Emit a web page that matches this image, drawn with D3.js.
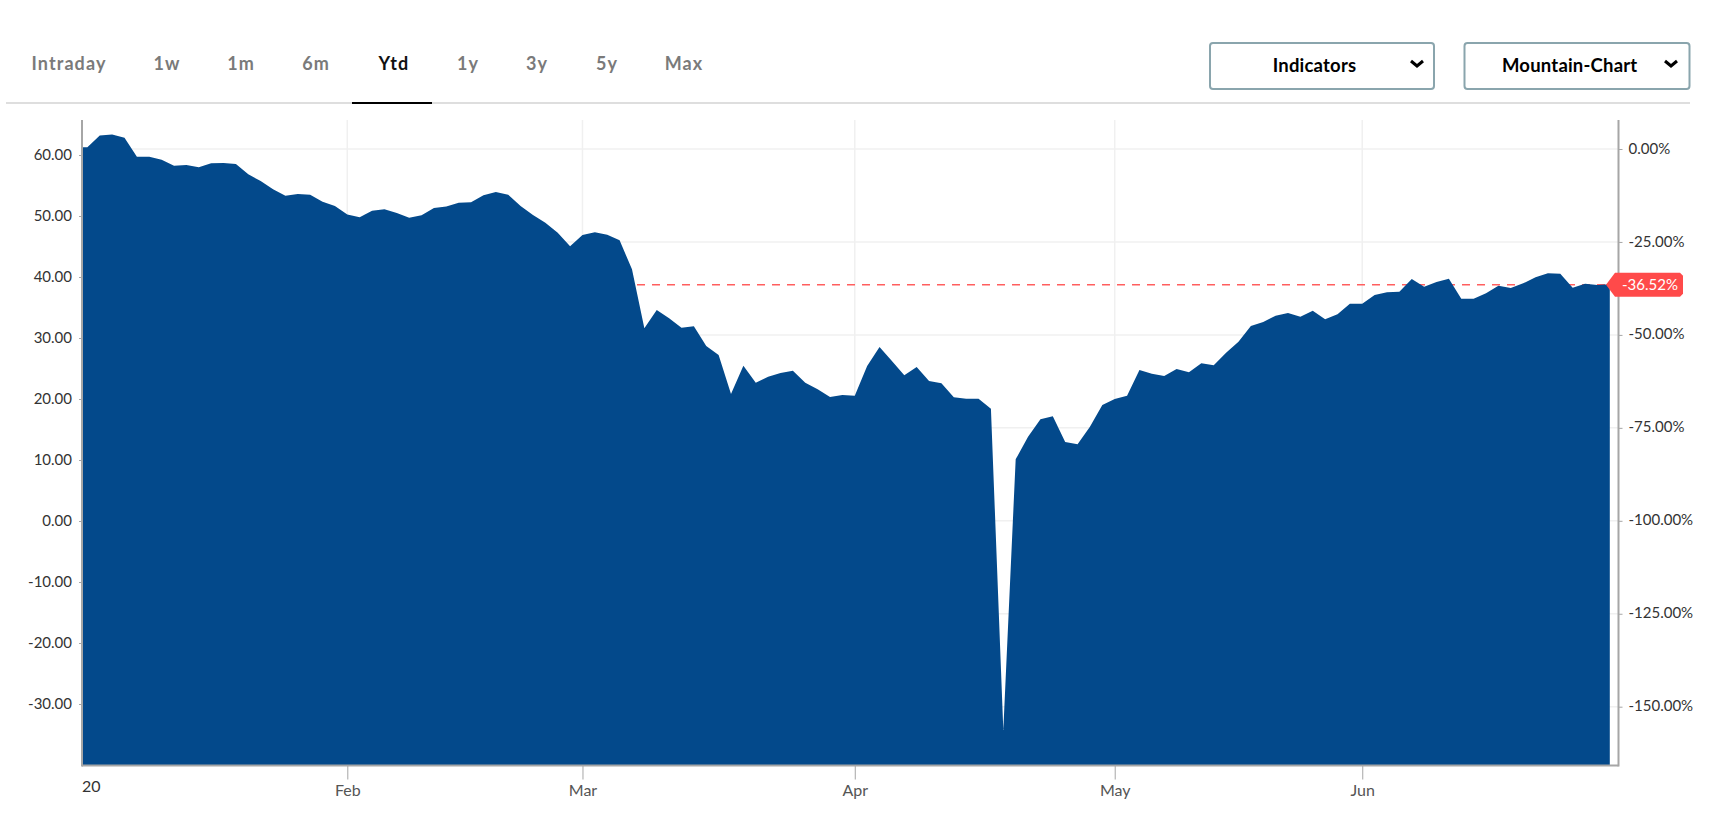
<!DOCTYPE html>
<html>
<head>
<meta charset="utf-8">
<script src="https://cdn.jsdelivr.net/npm/d3@7"></script>
<style>
    html, body { margin: 0; padding: 0; background: #fff; }
    svg { display: block; font-family: Lato, "Open Sans", sans-serif; }
</style>
</head>
<body>
<svg id="chart" width="1726" height="832"></svg>
<script>
// closes per trading day, first entry is only there so the area runs off the left edge
const closes = [
    61.26, 61.26, 63.20, 63.37, 62.84, 59.73, 59.73, 59.24, 58.25, 58.36,
    57.98, 58.64, 58.69, 58.53, 56.83, 55.74, 54.38, 53.34, 53.61, 53.50,
    52.35, 51.64, 50.23, 49.78, 50.88, 51.10, 50.50, 49.73, 50.11, 51.32,
    51.54, 52.19, 52.25, 53.39, 53.94, 53.50, 51.64, 50.17, 48.91, 47.27,
    45.03, 46.89, 47.32, 46.94, 46.01, 41.26, 31.58, 34.59, 33.22, 31.69,
    31.91, 28.69, 27.21, 20.82, 25.47, 22.67, 23.66, 24.26, 24.64, 22.67,
    21.58, 20.33, 20.66, 20.55, 25.41, 28.52, 26.23, 23.88, 25.25, 22.95,
    22.57, 20.27, 20.05, 20.05, 18.41, -34.26, 10.11, 13.82, 16.67, 17.16,
    12.95, 12.57, 15.46, 19.02, 20.00, 20.55, 24.75, 24.15, 23.77, 24.92,
    24.37, 25.85, 25.52, 27.59, 29.40, 31.97, 32.62, 33.66, 34.10, 33.50,
    34.48, 33.06, 33.88, 35.63, 35.63, 37.05, 37.49, 37.60, 39.67, 38.42,
    39.18, 39.73, 36.45, 36.45, 37.32, 38.58, 38.20, 38.96, 39.95, 40.60,
    40.55, 38.25, 38.90, 38.69, 38.80
];

const priceTicks = [60, 50, 40, 30, 20, 10, 0, -10, -20, -30];
const percentTicks = [0, -25, -50, -75, -100, -125, -150];
const monthLabels = ['Feb', 'Mar', 'Apr', 'May', 'Jun'];
const monthIndex = [22, 41, 63, 84, 104];
const startLabel = '20';
const lastPercent = -36.52;

const tabs = ['Intraday', '1w', '1m', '6m', 'Ytd', '1y', '3y', '5y', 'Max'];
const tabCenters = [69, 167, 241, 316, 394, 468, 537, 607, 684];
const activeTab = 'Ytd';
const buttons = ['Indicators', 'Mountain-Chart'];

const plot = { left: 82, right: 1618.5, top: 120, bottom: 765.5 };

const scale = {
    x: d3.scaleLinear().domain([0, closes.length - 1]).range([75, 1609.8]),
    price: d3.scaleLinear().domain([0, 60]).range([521, 155]),
    percent: d3.scaleLinear().domain([0, -150]).range([149, 706.7])
};

// plain hyphen for negatives, like the original labels
const fixed2 = (d) => d3.format('.2f')(d).replace('\u2212', '-');

const svg = d3.select('#chart');

// tabs
svg.append('line').attr('x1', 6).attr('x2', 1690).attr('y1', 103).attr('y2', 103)
    .attr('stroke', '#dedede').attr('stroke-width', 2);

svg.append('g').selectAll('text').data(tabs).join('text')
    .attr('x', (d, i) => tabCenters[i])
    .attr('y', 70)
    .attr('text-anchor', 'middle')
    .attr('font-size', 18)
    .attr('font-weight', 700)
    .attr('letter-spacing', 1.1)
    .attr('fill', d => d === activeTab ? '#111' : '#7a7a7a')
    .text(d => d);

svg.append('line').attr('x1', 352).attr('x2', 432).attr('y1', 103).attr('y2', 103)
    .attr('stroke', '#000').attr('stroke-width', 2);

// dropdowns
const buttonBoxes = [
    { x: 1210, w: 224, text: 1314.5, arrow: 1417 },
    { x: 1464.5, w: 225, text: 1569.7, arrow: 1671 }
];

buttons.forEach((label, i) => {
    const box = buttonBoxes[i];
    svg.append('rect')
        .attr('x', box.x).attr('y', 43).attr('width', box.w).attr('height', 46).attr('rx', 3)
        .attr('fill', '#fff').attr('stroke', '#8aa5ad').attr('stroke-width', 2);
    svg.append('text')
        .attr('x', box.text).attr('y', 72)
        .attr('text-anchor', 'middle')
        .attr('font-size', 18.5).attr('font-weight', 700).attr('letter-spacing', 0.2).attr('fill', '#000')
        .text(label);
    const arrow = d3.path();
    arrow.moveTo(box.arrow - 6, 61);
    arrow.lineTo(box.arrow, 66);
    arrow.lineTo(box.arrow + 6, 61);
    svg.append('path').attr('d', arrow.toString())
        .attr('fill', 'none').attr('stroke', '#000').attr('stroke-width', 3);
});

// grid
const grid = svg.append('g').attr('stroke', '#f0f0f0').attr('stroke-width', 1.5);

grid.selectAll('.h').data(percentTicks).join('line').attr('class', 'h')
    .attr('x1', plot.left).attr('x2', plot.right)
    .attr('y1', d => scale.percent(d)).attr('y2', d => scale.percent(d));

grid.selectAll('.v').data(monthIndex).join('line').attr('class', 'v')
    .attr('x1', d => scale.x(d)).attr('x2', d => scale.x(d))
    .attr('y1', plot.top).attr('y2', plot.bottom);

// last price line sits behind the area
svg.append('line')
    .attr('x1', plot.left).attr('x2', scale.x(closes.length - 1))
    .attr('y1', scale.percent(lastPercent)).attr('y2', scale.percent(lastPercent))
    .attr('stroke', '#ff5f5f').attr('stroke-width', 1.5).attr('stroke-dasharray', '8 7');

// mountain
svg.append('clipPath').attr('id', 'plot-clip').append('rect')
    .attr('x', plot.left).attr('y', plot.top)
    .attr('width', plot.right - plot.left).attr('height', plot.bottom - plot.top);

const areaGenerator = d3.area()
    .x((d, i) => scale.x(i))
    .y0(plot.bottom)
    .y1(d => scale.price(d));

svg.append('path')
    .attr('clip-path', 'url(#plot-clip)')
    .attr('d', areaGenerator(closes))
    .attr('fill', '#03498b');

// axes
const axisColor = '#a6a6a6';
const axisLines = svg.append('g').attr('stroke', axisColor).attr('stroke-width', 2);
axisLines.append('line').attr('x1', plot.left).attr('x2', plot.left).attr('y1', plot.top).attr('y2', plot.bottom + 1);
axisLines.append('line').attr('x1', plot.right).attr('x2', plot.right).attr('y1', plot.top).attr('y2', plot.bottom + 1);
axisLines.append('line').attr('x1', plot.left).attr('x2', plot.right).attr('y1', plot.bottom).attr('y2', plot.bottom);

const leftAxis = svg.append('g')
    .attr('transform', `translate(${plot.left},0)`)
    .call(d3.axisLeft(scale.price).tickValues(priceTicks).tickFormat(fixed2).tickSize(3).tickPadding(7));

const rightAxis = svg.append('g')
    .attr('transform', `translate(${plot.right},0)`)
    .call(d3.axisRight(scale.percent).tickValues(percentTicks).tickFormat(d => fixed2(d) + '%').tickSize(4).tickPadding(6));

const bottomAxis = svg.append('g')
    .attr('transform', `translate(0,${plot.bottom})`)
    .call(d3.axisBottom(scale.x).tickValues(monthIndex).tickFormat((d, i) => monthLabels[i]).tickSize(14).tickPadding(5));

[leftAxis, rightAxis, bottomAxis].forEach(axis => {
    axis.select('.domain').remove();
    axis.selectAll('.tick line').attr('stroke', axisColor);
    axis.selectAll('text').attr('font-family', 'Lato').attr('font-size', 15).attr('fill', '#333');
});
leftAxis.selectAll('text').attr('dy', '0.27em');
rightAxis.selectAll('text').attr('dy', '0.27em');
bottomAxis.selectAll('text').attr('fill', '#555').attr('font-size', 16);

svg.append('text')
    .attr('x', plot.left).attr('y', 791.5)
    .attr('font-size', 16).attr('fill', '#333')
    .text(startLabel);

// last value flag
const flagY = scale.percent(lastPercent);
const flag = d3.path();
flag.moveTo(1606, flagY);
flag.lineTo(1615, flagY - 12);
flag.lineTo(1680, flagY - 12);
flag.lineTo(1683, flagY - 9);
flag.lineTo(1683, flagY + 9);
flag.lineTo(1680, flagY + 12);
flag.lineTo(1615, flagY + 12);
flag.closePath();
svg.append('path').attr('d', flag.toString()).attr('fill', '#ff4a4a');

svg.append('text')
    .attr('x', 1650).attr('y', flagY + 5)
    .attr('text-anchor', 'middle')
    .attr('font-size', 15).attr('fill', '#fff')
    .text(fixed2(lastPercent) + '%');
</script>
</body>
</html>
